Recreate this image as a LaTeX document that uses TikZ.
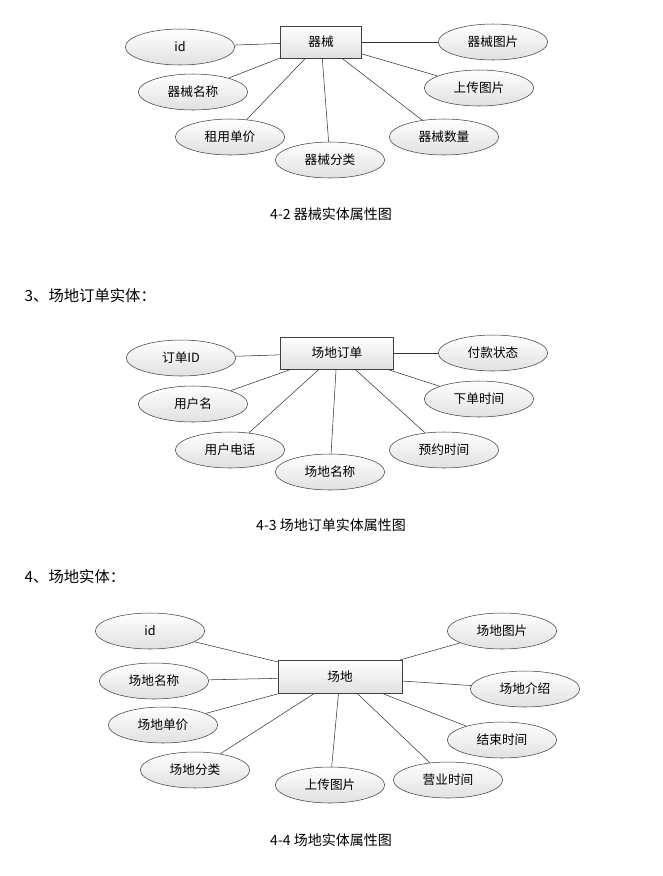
\documentclass[tikz,border=0pt]{standalone}
\usepackage{fontspec}
\setmainfont{Liberation Serif}
\newfontfamily\cjk{Noto Sans CJK SC}
\usetikzlibrary{shapes.geometric}

\begin{document}
\begin{tikzpicture}[
    x=0.75pt, y=-0.75pt,
    font=\cjk\fontsize{9.5}{11}\selectfont,
    attr/.style={ellipse, draw=black!75, thin, top color=white, bottom color=black!12,
                 minimum width=82pt, minimum height=27pt, inner sep=1pt},
    entity/.style={rectangle, draw=black!75, thin, top color=white, bottom color=black!12,
                   minimum height=24pt, inner sep=2pt},
    link/.style={draw=black!80, thin},
    caption/.style={font=\cjk\fontsize{10.5}{12}\selectfont},
    heading/.style={font=\cjk\fontsize{11.5}{13}\selectfont, anchor=west}
]
    \useasboundingbox (0,0) rectangle (662,876);

    % 4-2
    \node[entity, minimum width=61pt] (eq) at (321,42) {器械};
    \node[attr] (eqid) at (180,47) {id};
    \node[attr] (eqname) at (193,92) {器械名称};
    \node[attr] (eqprice) at (230,137) {租用单价};
    \node[attr] (eqtype) at (330,160) {器械分类};
    \node[attr] (eqnum) at (444,137) {器械数量};
    \node[attr] (equp) at (479,88) {上传图片};
    \node[attr] (eqpic) at (493,42) {器械图片};
    \path[link] (eq) edge (eqid) edge (eqname) edge (eqprice) edge (eqtype)
        edge (eqnum) edge (equp) edge (eqpic);
    \node[caption] (cap2) at (331,214) {4-2 器械实体属性图};

    % 4-3
    \node[heading] (h3) at (20,296) {3、场地订单实体：};
    \node[entity, minimum width=85pt] (ord) at (337,353) {场地订单};
    \node[attr] (ordid) at (181,358) {订单ID};
    \node[attr] (orduser) at (193,404) {用户名};
    \node[attr] (ordtel) at (230,450) {用户电话};
    \node[attr] (ordsite) at (330,472) {场地名称};
    \node[attr] (ordbook) at (444,450) {预约时间};
    \node[attr] (ordtime) at (479,399) {下单时间};
    \node[attr] (ordpay) at (493,353) {付款状态};
    \path[link] (ord) edge (ordid) edge (orduser) edge (ordtel) edge (ordsite)
        edge (ordbook) edge (ordtime) edge (ordpay);
    \node[caption] (cap3) at (331,525) {4-3 场地订单实体属性图};

    % 4-4
    \node[heading] (h4) at (20,577) {4、场地实体：};
    \node[entity, minimum width=93pt, minimum height=25pt] (site) at (340,677) {场地};
    \node[attr] (siteid) at (150,631) {id};
    \node[attr] (sitename) at (154,681) {场地名称};
    \node[attr] (siteprice) at (163,725) {场地单价};
    \node[attr] (sitetype) at (195,770) {场地分类};
    \node[attr] (siteup) at (330,785) {上传图片};
    \node[attr] (siteopen) at (448,780) {营业时间};
    \node[attr] (siteend) at (502,740) {结束时间};
    \node[attr] (siteintro) at (525,689) {场地介绍};
    \node[attr] (sitepic) at (502,631) {场地图片};
    \path[link] (site) edge (siteid) edge (sitename) edge (siteprice) edge (sitetype)
        edge (siteup) edge (siteopen) edge (siteend) edge (siteintro) edge (sitepic);
    \node[caption] (cap4) at (331,840) {4-4 场地实体属性图};
\end{tikzpicture}
\end{document}
